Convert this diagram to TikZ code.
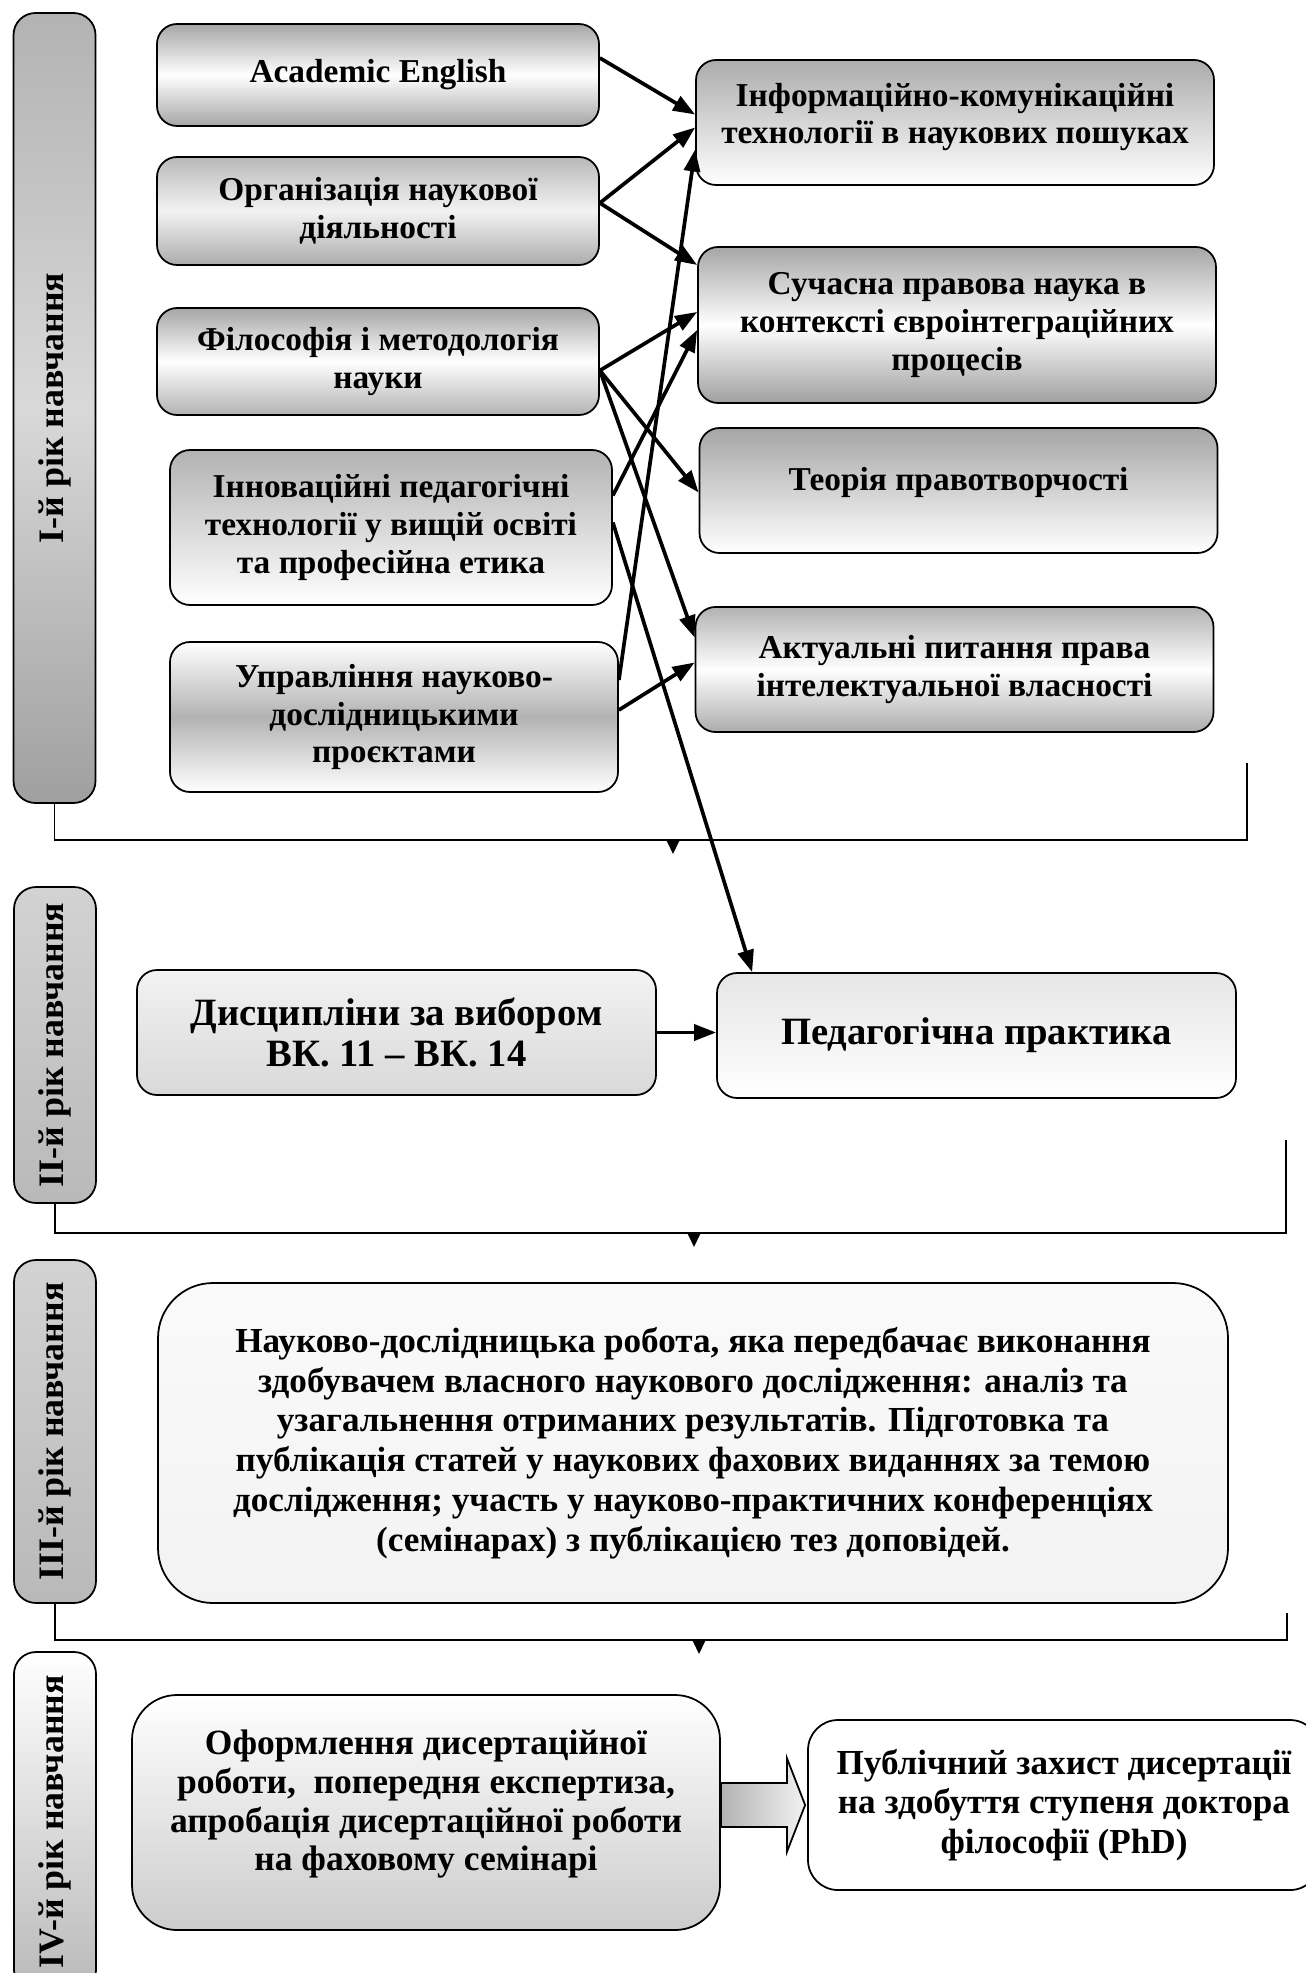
\documentclass[tikz,border=0pt]{standalone}
\usepackage{fontspec}
\usepackage{graphicx}
\setmainfont{Liberation Serif}
\usetikzlibrary{arrows.meta, calc}

\tikzset{
  yearlbl/.style={draw, line width=0.5pt, rounded corners=2.2mm, minimum width=8.2mm,
    inner sep=0pt, font=\fontsize{10.2}{12}\selectfont\bfseries},
  disc/.style={draw, line width=0.5pt, rounded corners=2mm, align=center, inner sep=1pt,
    font=\fontsize{9.5}{10.75}\selectfont\bfseries},
  lcol/.style={minimum width=44.2mm},
  rcol/.style={minimum width=51.8mm},
  bigtxt/.style={font=\fontsize{11}{11.9}\selectfont\bfseries},
  link/.style={line width=1.05pt, -{Triangle[length=2.2mm, width=1.6mm]}},
  loopline/.style={line width=0.5pt},
  flowmark/.style={line width=0.5pt, -{Triangle[length=1.4mm, width=1.3mm]}},
}

\begin{document}
\begin{tikzpicture}[x=0.1mm, y=-0.1mm]
  \useasboundingbox (0,0) rectangle (1305,1973);

  % I-й рік навчання
  \node[yearlbl, minimum height=79mm, top color=gray!60, bottom color=gray!75, middle color=gray!30] (y1) at (54.5,408) {\rotatebox{90}{I-й рік навчання}};
  \node[disc, lcol, minimum height=10.2mm, top color=gray!70, bottom color=gray!70, middle color=white] (ae) at (378,75) {Academic English};
  \node[disc, lcol, minimum height=10.8mm, top color=gray!55, bottom color=gray!65, middle color=gray!10] (org) at (378,211) {Організація наукової\\діяльності};
  \node[disc, lcol, minimum height=10.7mm, top color=gray!70, bottom color=gray!60, middle color=white] (fil) at (378,361.5) {Філософія і методологія\\науки};
  \node[disc, lcol, minimum height=15.5mm, top color=gray!60, bottom color=white] (inn) at (391,527.5) {Інноваційні педагогічні\\технології у вищій освіті\\та професійна етика};
  \node[disc, minimum width=44.8mm, minimum height=15mm, top color=white, bottom color=white, middle color=gray!60] (upr) at (394,717) {Управління науково-\\дослідницькими\\проєктами};

  \node[disc, rcol, minimum height=12.5mm, text depth=1.8mm, top color=gray!65, bottom color=white] (ikt) at (955,122.5) {Інформаційно-комунікаційні\\технології в наукових пошуках};
  \node[disc, rcol, minimum height=15.6mm, top color=gray!70, bottom color=gray!75, middle color=white] (spn) at (957,325) {Сучасна правова наука в\\контексті євроінтеграційних\\процесів};
  \node[disc, rcol, minimum height=12.5mm, text depth=2.4mm, top color=gray!70, bottom color=white] (tpr) at (958.5,490.5) {Теорія правотворчості};
  \node[disc, rcol, minimum height=12.5mm, top color=gray!60, bottom color=gray!65, middle color=white] (api) at (954.5,669.5) {Актуальні питання права\\інтелектуальної власності};

  % II-й рік навчання
  \node[yearlbl, minimum height=31.6mm, top color=gray!35, bottom color=gray!55] (y2) at (55,1045) {\rotatebox{90}{II-й рік навчання}};
  \node[disc, bigtxt, minimum width=51.9mm, minimum height=12.5mm, top color=gray!10, bottom color=gray!30] (dvk) at (396.5,1032.5) {Дисципліни за вибором\\ВК. 11 – ВК. 14};
  \node[disc, bigtxt, minimum width=51.9mm, minimum height=12.5mm, top color=gray!20, bottom color=white] (pp) at (976.5,1035.5) {Педагогічна практика};

  % III-й рік навчання
  \node[yearlbl, minimum height=34.3mm, top color=gray!35, bottom color=gray!55] (y3) at (55,1431.5) {\rotatebox{90}{III-й рік навчання}};
  \node[disc, rounded corners=5.5mm, minimum width=107mm, minimum height=32mm, top color=gray!4, bottom color=gray!10,
    font=\fontsize{10}{11.3}\selectfont\bfseries] (nd) at (693,1443) {Науково-дослідницька робота, яка передбачає виконання\\здобувачем власного наукового дослідження: аналіз та\\узагальнення отриманих результатів. Підготовка та\\публікація статей у наукових фахових виданнях за темою\\дослідження; участь у науково-практичних конференціях\\(семінарах) з публікацією тез доповідей.};

  % IV-й рік навчання
  \node[yearlbl, minimum height=34mm, top color=white, bottom color=gray!55] (y4) at (55,1822) {\rotatebox{90}{IV-й рік навчання}};
  \node[disc, rounded corners=4.5mm, minimum width=58.8mm, minimum height=23.5mm, text depth=2.4mm, top color=white, bottom color=gray!40,
    font=\fontsize{10.1}{11}\selectfont\bfseries] (ofd) at (426,1812.5) {Оформлення дисертаційної\\роботи,\ \ попередня експертиза,\\апробація дисертаційної роботи\\на фаховому семінарі};
  \node[disc, rounded corners=3mm, minimum width=51.2mm, minimum height=17mm, fill=white,
    font=\fontsize{10}{11.2}\selectfont\bfseries] (pz) at (1064,1805) {Публічний захист дисертації\\на здобуття ступеня доктора\\філософії (PhD)};

  % зв'язки між дисциплінами
  \draw[link] ($(ae.east)+(0,-17)$) -- ($(ikt.west)+(0,-8)$);
  \draw[link] ($(org.east)+(0,-8)$) -- ($(ikt.west)+(0,5)$);
  \draw[link] ($(org.east)+(0,-8)$) -- ($(spn.west)+(0,-60)$);
  \draw[link] ($(fil.east)+(0,9)$) -- ($(spn.west)+(0,-13)$);
  \draw[link] ($(fil.east)+(0,9)$) -- ($(tpr.west)+(0,2)$);
  \draw[link] ($(fil.east)+(0,9)$) -- ($(api.west)+(0,-32)$);
  \draw[link] ($(inn.east)+(0,-32)$) -- ($(spn.west)+(0,5)$);
  \draw[link] ($(inn.east)+(0,-5)$) -- ($(pp.north west)+(36,0)$);
  \draw[link] ($(upr.east)+(0,-37)$) -- ($(ikt.west)+(0,27)$);
  \draw[link] ($(upr.east)+(0,-7)$) -- ($(api.west)+(0,-7)$);
  \draw[link] (dvk.east) -- (dvk.east -| pp.west);

  % переходи між роками
  \coordinate (c1) at (1247,840);
  \coordinate (e1) at (1247,763);
  \coordinate (m1) at (673,840);
  \draw[loopline] (y1.south) |- (c1) -- (e1);
  \draw[flowmark] (m1) -- ++(0,14);

  \coordinate (c2) at (1286,1233);
  \coordinate (e2) at (1286,1140);
  \coordinate (m2) at (694,1233);
  \draw[loopline] (y2.south) |- (c2) -- (e2);
  \draw[flowmark] (m2) -- ++(0,14);

  \coordinate (c3) at (1287,1640);
  \coordinate (e3) at (1287,1613);
  \coordinate (m3) at (699,1640);
  \draw[loopline] (y3.south) |- (c3) -- (e3);
  \draw[flowmark] (m3) -- ++(0,14);

  % контурна стрілка
  \coordinate (bs) at (ofd.east |- pz.west);
  \shadedraw[line width=0.5pt, left color=gray!60, right color=gray!10]
    ($(bs)+(0,-22)$) -- ++(66,0) -- ++(0,-25) -- ($(pz.west)+(-2,0)$) -- ($(bs)+(66,47)$) -- ++(0,-25) -- ($(bs)+(0,22)$) -- cycle;
\end{tikzpicture}
\end{document}
